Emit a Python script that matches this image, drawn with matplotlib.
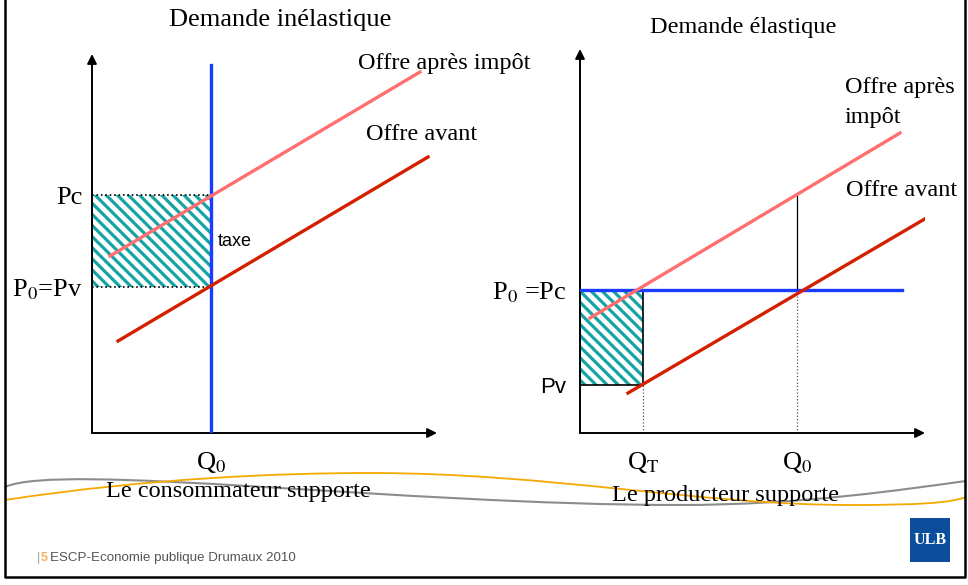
import matplotlib.pyplot as plt
from matplotlib.path import Path
from matplotlib.patches import PathPatch, Rectangle

plt.rcParams['mathtext.fontset'] = 'stix'
plt.rcParams['hatch.linewidth'] = 2.3

SERIF = 'Liberation Serif'
SANS = 'Liberation Sans'
BLUE = '#1a3cff'
PINK = '#ff6f6f'
RED = '#d42000'
TEAL = '#16a3a3'

# left panel: inelastic demand (quantity, price in arbitrary units)
l_q0 = 119
l_p0 = 146
l_pc = 238
l_demand_p = [0, 368]
l_before_q = [26, 336]
l_before_p = [92, 276]
l_after_q = [18, 328]
l_after_p = [177, 361]

# right panel: elastic demand
r_p0 = 143
r_pv = 48
r_qt = 63
r_q0 = 217
r_demand_q = [0, 322]
r_after_q = [10, 320]
r_after_p = [115, 300]
r_before_q = [48, 360]
r_before_p = [40, 223]
r_q0_top = 238

W, H = 968, 585
fig = plt.figure(figsize=(W / 100, H / 100), dpi=100)

# background overlay axes in pixel coordinates for slide decoration
bg = fig.add_axes([0, 0, 1, 1])
bg.set_xlim(0, W)
bg.set_ylim(H, 0)
bg.axis('off')


def panel(x0, y0, w, h):
    ax = fig.add_axes([x0 / W, 1 - y0 / H, w / W, h / H])
    ax.set_xlim(0, w)
    ax.set_ylim(0, h)
    ax.patch.set_visible(False)
    for s in ax.spines.values():
        s.set_visible(False)
    ax.tick_params(length=0)
    ax.annotate('', xy=(0, h - 4), xytext=(0, 0),
                arrowprops=dict(arrowstyle='-|>', color='black', lw=1.4,
                                mutation_scale=14, shrinkA=0, shrinkB=0),
                annotation_clip=False)
    ax.annotate('', xy=(w, 0), xytext=(0, 0),
                arrowprops=dict(arrowstyle='-|>', color='black', lw=1.4,
                                mutation_scale=14, shrinkA=0, shrinkB=0),
                annotation_clip=False)
    return ax


def hatched(ax, q, p, w, h):
    ax.add_patch(Rectangle((q, p), w, h, facecolor='white', edgecolor=TEAL,
                           lw=0, hatch='\\\\\\', zorder=1))


# ---- left panel
ax1 = panel(92, 433, 345, 383)
hatched(ax1, 0, l_p0, l_q0, l_pc - l_p0)
ax1.plot([0, 0], [l_p0, l_pc], color='black', lw=1.2, zorder=2)
ax1.plot([0, l_q0], [l_pc, l_pc], color='black', lw=1.2, ls=':', zorder=2)
ax1.plot([0, l_q0], [l_p0, l_p0], color='black', lw=1.2, ls=':', zorder=2)
ax1.plot([l_q0, l_q0], l_demand_p, color=BLUE, lw=2.4, zorder=3)
ax1.plot(l_after_q, l_after_p, color=PINK, lw=2.4, zorder=3)
ax1.plot(l_before_q, l_before_p, color=RED, lw=2.4, zorder=3)
ax1.set_xticks([l_q0], ['Q$_0$'], fontsize=19, fontfamily=SERIF)
ax1.set_yticks([l_p0, l_pc], ['P$_0$=Pv', 'Pc'], fontsize=19, fontfamily=SERIF)
ax1.tick_params(axis='x', pad=12)
ax1.tick_params(axis='y', pad=7)
ax1.text(l_q0 + 7, (l_p0 + l_pc) / 2, 'taxe', fontsize=13, fontfamily=SANS,
         va='center', ha='left')

# ---- right panel
ax2 = panel(580, 433, 345, 388)
hatched(ax2, 0, r_pv, r_qt, r_p0 - r_pv)
ax2.add_patch(Rectangle((0, r_pv), r_qt, r_p0 - r_pv, facecolor='none',
                        edgecolor='black', lw=1.2, zorder=2))
ax2.plot([r_qt, r_qt], [0, r_pv], color='#555555', lw=0.9, ls=':', zorder=2)
ax2.plot([r_q0, r_q0], [0, r_p0], color='#555555', lw=0.9, ls=':', zorder=2)
ax2.plot([r_q0, r_q0], [r_p0, r_q0_top], color='black', lw=0.9, zorder=2)
ax2.plot(r_demand_q, [r_p0, r_p0], color=BLUE, lw=2.4, zorder=3)
ax2.plot(r_after_q, r_after_p, color=PINK, lw=2.4, zorder=3)
ax2.plot(r_before_q, r_before_p, color=RED, lw=2.4, zorder=3)
ax2.set_xticks([r_qt, r_q0], ['Q$_\\mathrm{T}$', 'Q$_0$'], fontsize=19,
               fontfamily=SERIF)
ax2.set_yticks([r_pv, r_p0], ['Pv', 'P$_0$ =Pc'], fontsize=19, fontfamily=SERIF)
ax2.get_yticklabels()[0].set_fontfamily(SANS)
ax2.get_yticklabels()[0].set_fontsize(16)
ax2.tick_params(axis='x', pad=12)
ax2.tick_params(axis='y', pad=10)

# ---- titles and curve labels
kw = dict(fontsize=17.5, fontfamily=SERIF)
bg.text(280, 20, 'Demande inélastique', ha='center', va='center',
        fontsize=19, fontfamily=SERIF)
bg.text(743, 28, 'Demande élastique', ha='center', va='center', **kw)
bg.text(358, 63, 'Offre après impôt', ha='left', va='center', **kw)
bg.text(366, 135, 'Offre avant', ha='left', va='center', **kw)
bg.text(845, 88, 'Offre après', ha='left', va='center', **kw)
bg.text(845, 117, 'impôt', ha='left', va='center', **kw)
bg.text(846, 190, 'Offre avant', ha='left', va='center', **kw)

# ---- decorative waves
gray = Path([(5, 487), (60, 462), (400, 505), (680, 505),
             (800, 505), (900, 490), (966, 481)],
            [Path.MOVETO, Path.CURVE4, Path.CURVE4, Path.CURVE4,
             Path.CURVE4, Path.CURVE4, Path.CURVE4])
orange = Path([(5, 500), (150, 478), (280, 473), (370, 473),
               (550, 473), (700, 505), (850, 505),
               (920, 505), (950, 503), (966, 497)],
              [Path.MOVETO, Path.CURVE4, Path.CURVE4, Path.CURVE4,
               Path.CURVE4, Path.CURVE4, Path.CURVE4,
               Path.CURVE4, Path.CURVE4, Path.CURVE4])
bg.add_patch(PathPatch(gray, facecolor='none', edgecolor='#8c8c8c', lw=1.5))
bg.add_patch(PathPatch(orange, facecolor='none', edgecolor='#f5a800', lw=1.3))

bg.text(238, 492, 'Le consommateur supporte', ha='center', va='center',
        fontsize=17.5, fontfamily=SERIF)
bg.text(725, 496, 'Le producteur supporte', ha='center', va='center',
        fontsize=17.5, fontfamily=SERIF)

# ---- footer
bg.text(37, 558, '|', color='#a0a0a0', fontsize=9, fontfamily=SANS, va='center')
bg.text(41, 558, '5', color='#f5b060', fontsize=9, fontfamily=SANS, va='center',
        fontweight='bold')
bg.text(50, 558, 'ESCP-Economie publique Drumaux 2010', color='#555555',
        fontsize=9.6, fontfamily=SANS, va='center')
bg.add_patch(Rectangle((910, 518), 40, 44, facecolor='#0b4f9c', edgecolor='none'))
bg.text(930, 540, 'ULB', color='white', fontsize=11.5, fontfamily=SERIF,
        fontweight='bold', ha='center', va='center')

# slide frame
bg.plot([5, 5, 965, 965], [0, 577, 577, 0], color='black', lw=1.8)

fig.savefig('out.png', dpi=100)
